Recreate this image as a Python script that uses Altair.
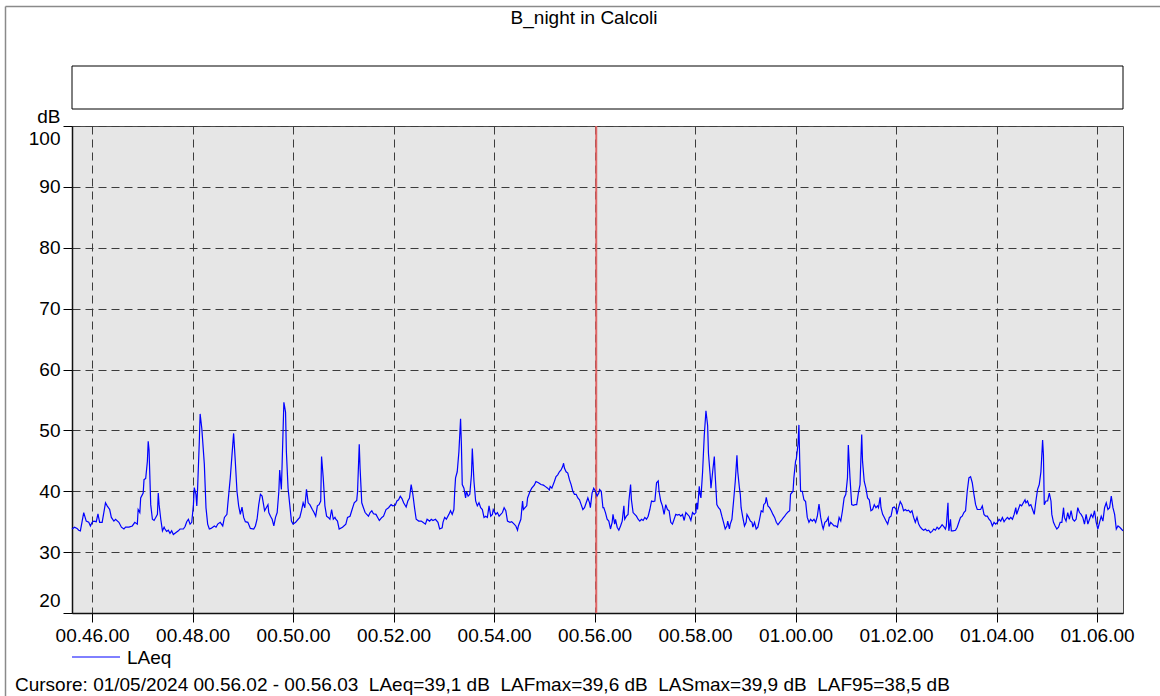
import altair as alt
import pandas as pd

TITLE = "B_night in Calcoli"
NB = "\u00a0 "
FOOTER = ("Cursore: 01/05/2024 00.56.02 - 00.56.03" + NB + "LAeq=39,1 dB" + NB + "LAFmax=39,6 dB" + NB
          + "LASmax=39,9 dB" + NB + "LAF95=38,5 dB")
SERIES = "LAeq"
START = "2024-05-01 00:45:36"
END = "2024-05-01 01:06:31"
CURSOR = "2024-05-01 00:56:02"

x_ticks = ["00:46:00", "00:48:00", "00:50:00", "00:52:00", "00:54:00", "00:56:00",
           "00:58:00", "01:00:00", "01:02:00", "01:04:00", "01:06:00"]
y_ticks = [20, 30, 40, 50, 60, 70, 80, 90, 100]

# seconds after 00:45:36
offset_s = [
    0, 3, 6, 8, 10, 14, 17, 20, 22, 24, 26, 29, 31, 33, 36, 40, 42, 45, 47, 50, 52, 56, 59, 62, 64,
    68, 72, 75, 78, 79, 81, 82, 85, 86, 88, 90, 91, 92, 94, 96, 98, 100, 102, 103, 104, 106, 108,
    110, 111, 113, 115, 117, 119, 121, 123, 127, 129, 133, 135, 137, 139, 141, 143, 145, 146, 148,
    149, 150, 152, 153, 155,
    158, 160, 162, 164, 166, 170, 172, 174, 177, 180, 182, 185, 186, 189, 191, 193, 195, 197, 199,
    201, 203, 205, 207, 210, 213, 217, 219, 221, 223, 225, 227, 229, 230, 232, 234, 235, 237, 239,
    241, 243, 245, 247, 248, 250, 251, 253, 255, 256, 258, 260, 262, 264, 267, 270, 272, 274, 276,
    278, 280, 282, 284, 287, 289, 291, 293, 295, 297, 298, 300, 302, 304, 306, 308, 310, 312, 314,
    315, 317, 319, 323, 327, 329, 332, 334, 337, 340, 341, 343, 344, 346, 348, 350, 352, 354, 356,
    358, 360, 363, 365, 367, 370, 372, 375, 378, 381, 383, 386, 388, 390, 392, 394, 396, 399, 401,
    403, 405, 407, 409, 411, 414, 417, 419, 422, 424, 427, 429, 431, 434, 437, 439, 442, 443, 445,
    447, 450, 452, 454, 456, 457, 458, 460, 462, 464, 465, 466, 468, 470, 471,
    473, 475, 477, 478, 480, 482, 484, 486, 488, 490, 492, 494, 496, 498, 500, 502, 503, 506, 508,
    510, 512, 514, 516, 518, 520, 523, 525, 528, 530, 532, 533, 536, 538, 539, 541, 543, 544, 547,
    549, 552, 554, 557, 560, 563, 565, 568, 570, 571, 573, 576, 578, 580, 582, 584, 586, 587, 588,
    590, 592, 594, 596, 598, 600, 602, 604, 606, 608, 610, 612, 614, 616, 618, 619, 621, 623, 625,
    627, 629,
    630, 632, 634, 635, 637, 639, 641, 643, 645, 646, 648, 649, 651, 653, 655, 657, 659, 660, 662,
    664, 665, 667, 668, 670, 672, 674, 676, 678, 680, 682, 684, 686, 688, 690, 692, 694, 696, 698,
    700, 701, 703, 705, 707, 709, 711, 713, 715, 717, 719, 721, 723, 725, 727, 729, 731, 733, 735,
    737, 739, 741, 743, 745, 746, 747, 749, 750, 751, 753, 755, 757, 759, 760, 762, 763, 765, 767,
    768, 770, 772, 774, 776, 778, 780, 782, 783, 785, 786,
    788, 790, 792, 794, 795, 797, 798, 799, 801, 803, 805, 806, 808, 810, 812, 813, 815, 817, 819,
    821, 823, 825, 826, 828, 829, 831, 833, 835, 837, 839, 841, 843, 845, 847, 849, 851, 853, 855,
    857, 858, 861, 862, 864, 865, 867, 868, 869, 870, 872, 874, 876, 878, 880, 882, 884, 886, 888,
    890, 892, 894, 896, 897, 899, 901, 903, 904, 906, 908, 910, 912, 914, 916, 918, 920, 922, 924,
    926, 927, 929, 931, 933, 935, 937, 939, 941, 943, 944,
    946, 948, 950, 952, 954, 956, 958, 960, 962, 963, 965, 966, 968, 970, 972, 974, 976, 978, 980,
    982, 984, 985, 987, 989, 991, 993, 995, 997, 999, 1001, 1003, 1005, 1007, 1009, 1011, 1013,
    1015, 1017, 1019, 1021, 1023, 1025, 1027, 1029, 1031, 1033, 1035, 1037, 1039, 1041, 1043, 1044,
    1046, 1047, 1048, 1049, 1050, 1052, 1055, 1057, 1059, 1061, 1063, 1065, 1067, 1069, 1071, 1073,
    1075, 1077, 1079, 1081, 1083, 1085, 1087, 1089, 1091, 1093, 1095, 1097, 1099, 1101,
    1103, 1105, 1107, 1109, 1111, 1113, 1115, 1117, 1119, 1121, 1123, 1125, 1127, 1128, 1130, 1132,
    1134, 1136, 1138, 1139, 1141, 1143, 1145, 1147, 1149, 1151, 1153, 1155, 1157, 1159, 1160, 1161,
    1163, 1165, 1167, 1169, 1170, 1172, 1174, 1176, 1178, 1180, 1182, 1184, 1185, 1187, 1189, 1191,
    1193, 1195, 1197, 1199, 1201, 1203, 1205, 1207, 1209, 1211, 1213, 1215, 1217, 1219, 1221, 1223,
    1225, 1227, 1229, 1231, 1233, 1235, 1237, 1239, 1241, 1243, 1245, 1247, 1249, 1251, 1253, 1255,
]

laeq_db = [
    33.8, 34.1, 33.9, 33.6, 33.5, 36.5, 35.1, 34.9, 34.3, 34.9, 35.1, 35.0, 36.3, 34.9, 34.9, 38.1,
    37.6, 37.0, 35.7, 35.1, 35.4, 34.9, 34.1, 33.8, 34.1, 34.1, 34.3, 34.9, 34.6, 37.0, 36.5, 38.9,
    39.7, 41.9, 42.1, 44.9, 48.2, 46.8, 37.8, 35.4, 35.2, 35.7, 36.2, 39.7, 37.8, 35.4, 33.5, 34.1,
    33.8, 33.4, 33.6, 33.1, 33.5, 32.9, 33.1, 33.5, 33.8, 33.8, 34.2, 35.0, 35.4, 34.6, 34.9, 37.8,
    40.6, 39.5, 37.6, 40.5, 48.1, 52.7, 50.3,
    44.5, 37.3, 34.6, 33.8, 33.9, 34.3, 34.1, 34.6, 34.9, 34.3, 35.7, 36.2, 37.8, 42.2, 45.9, 49.5,
    44.9, 40.0, 37.6, 36.2, 37.4, 35.7, 35.0, 34.9, 33.9, 33.8, 34.3, 35.4, 37.8, 39.5, 39.2, 37.6,
    36.8, 37.3, 37.8, 36.5, 35.9, 35.4, 34.3, 35.7, 36.5, 40.0, 43.5, 40.3, 44.9, 54.6, 53.0, 46.5,
    40.5, 37.8, 35.1, 34.6, 34.9, 35.4, 35.7, 36.8, 38.1, 37.3, 40.3, 38.1, 37.8, 37.0, 36.5, 35.9,
    37.6, 37.8, 38.4, 45.7, 42.2, 37.6, 35.9, 35.7, 35.4, 37.0, 35.4, 35.7,
    35.4, 35.1, 33.8, 34.1, 34.6, 35.7, 35.9, 36.8, 38.1, 38.5, 40.0, 47.7, 43.8, 38.1, 37.3, 36.5,
    36.2, 35.9, 36.5, 36.8, 36.3, 36.2, 35.7, 35.2, 35.7, 35.9, 37.0, 37.3, 37.8, 37.6, 37.7, 38.4,
    38.6, 39.2, 38.8, 38.1, 37.4, 38.4, 38.9, 41.1, 39.5, 37.3, 35.4, 35.1, 35.1, 34.9, 34.6, 35.4,
    35.1, 35.4, 35.2, 35.4, 34.9, 33.8, 34.0, 34.9, 35.7, 35.4, 36.2, 36.8, 36.2, 37.0, 40.0, 42.2,
    43.2, 46.5, 51.9, 47.6, 41.1, 40.5, 38.9, 40.0,
    39.2, 39.5, 42.7, 47.0, 41.6, 38.4, 37.6, 38.1, 37.3, 37.0, 35.7, 35.9, 35.7, 37.6, 35.9, 36.2,
    37.0, 36.2, 36.5, 35.9, 36.2, 36.5, 37.3, 36.8, 35.1, 34.9, 35.0, 34.6, 34.3, 33.6, 34.3, 35.4,
    38.4, 37.0, 37.3, 37.6, 38.9, 40.0, 40.5, 41.0, 41.6, 41.4, 41.1, 41.0, 40.8, 40.5, 40.2, 40.8,
    40.5, 41.6, 42.4, 42.7, 43.2, 43.5, 44.1, 44.6, 43.8, 43.2, 43.0, 41.9, 41.1, 40.0, 39.5, 39.5,
    38.9, 38.6, 37.8, 37.0, 37.3, 38.1, 38.9, 38.1, 37.3, 39.7, 40.5, 40.0, 39.2, 39.7,
    40.3, 40.0, 37.3, 37.3, 36.5, 35.4, 35.1, 33.8, 34.9, 36.2, 34.6, 35.4, 34.1, 33.6, 34.3, 35.1,
    37.6, 35.4, 35.9, 36.2, 38.4, 41.1, 38.6, 36.5, 36.2, 35.9, 35.4, 35.1, 35.4, 35.2, 35.7, 35.4,
    35.9, 37.0, 38.4, 38.3, 38.4, 41.4, 41.7, 40.0, 38.4, 37.6, 36.2, 37.8, 37.0, 36.8, 34.9, 34.6,
    35.4, 36.2, 36.1, 36.2, 35.9, 36.2, 35.2, 36.5, 36.2, 35.9, 35.2, 36.5, 36.2, 36.5, 38.1, 37.0,
    40.8, 39.5, 38.9, 43.2, 49.2, 53.2, 50.8, 46.2, 42.7, 40.5, 43.2, 45.7, 42.7, 37.8, 37.3, 37.0,
    35.9, 34.9, 33.8, 34.3, 35.1, 33.8, 34.6,
    35.4, 38.4, 41.6, 45.9, 43.2, 40.5, 39.5, 37.3, 35.7, 34.3, 34.9, 36.2, 35.7, 35.1, 34.9, 34.1,
    34.9, 33.8, 34.1, 35.4, 36.8, 36.6, 37.8, 38.1, 39.0, 37.6, 37.3, 36.8, 36.2, 35.7, 34.9, 34.5,
    34.9, 35.2, 35.6, 35.9, 36.3, 36.6, 36.8, 39.5, 40.0, 42.2, 44.9, 45.4, 47.8, 50.9, 44.9, 40.0,
    40.0, 38.6, 38.3, 35.7, 34.9, 35.4, 35.1, 35.4, 34.9, 35.9, 37.9, 35.7, 34.3, 33.8, 34.9, 35.1,
    35.7, 34.2, 34.9, 34.6, 34.3, 34.3, 34.1, 35.7, 35.1, 36.8, 38.9, 39.5, 42.2, 47.6, 42.2, 37.8,
    37.7, 37.8, 37.8, 39.7, 41.1, 49.3, 44.9,
    41.6, 40.5, 38.9, 38.6, 36.8, 37.0, 37.8, 37.3, 37.6, 37.3, 39.0, 37.3, 36.2, 35.7, 35.1, 34.6,
    35.7, 35.9, 37.3, 37.4, 37.0, 36.2, 37.3, 38.3, 37.8, 36.8, 37.0, 36.8, 36.9, 36.5, 36.8, 35.7,
    34.9, 35.7, 34.6, 34.1, 33.8, 33.6, 33.8, 33.5, 33.6, 33.2, 33.4, 33.8, 33.6, 34.1, 33.8, 34.1,
    34.5, 34.2, 33.8, 34.3, 38.1, 33.5, 34.3, 35.4, 33.5, 33.5, 33.6, 34.1, 34.9, 35.7, 35.9, 36.5,
    36.8, 40.0, 42.2, 42.4, 41.4, 39.5, 37.8, 37.0, 37.0, 37.0, 37.6, 36.2, 35.9, 35.9, 35.4, 35.1,
    34.3, 34.9,
    34.6, 34.9, 35.4, 35.1, 35.7, 35.0, 35.4, 35.7, 35.4, 35.7, 35.4, 36.2, 37.3, 36.2, 37.0, 37.8,
    37.6, 38.1, 38.6, 38.1, 38.4, 37.6, 37.8, 37.0, 36.2, 38.4, 40.3, 41.1, 43.2, 48.4, 45.9, 37.8,
    38.4, 38.4, 39.7, 38.4, 36.2, 34.9, 34.3, 33.8, 34.1, 34.9, 34.9, 37.3, 35.7, 35.1, 36.5, 35.4,
    36.8, 35.4, 35.1, 35.4, 37.3, 36.5, 36.2, 35.7, 34.6, 36.2, 34.6, 35.4, 36.2, 35.7, 36.8, 34.9,
    33.8, 34.9, 35.9, 35.1, 37.3, 38.1, 37.0, 37.3, 39.2, 37.3, 36.2, 33.8, 34.3, 34.1, 33.8, 33.5,
]

FONT = "Liberation Sans"
FS = 19
W, H = 1051, 487


def dt(ts):
    t = pd.Timestamp(ts)
    return alt.DateTime(year=t.year, month=t.month, date=t.day,
                        hours=t.hour, minutes=t.minute, seconds=t.second)


start = pd.Timestamp(START)
times = start + pd.to_timedelta(offset_s, unit="s")
df = pd.DataFrame({"time": times.strftime("%Y-%m-%dT%H:%M:%S"), "dB": laeq_db, "series": SERIES})
cursor_df = pd.DataFrame({"time": [pd.Timestamp(CURSOR).strftime("%Y-%m-%dT%H:%M:%S")]})
one = pd.DataFrame({"series": [SERIES]})

x_enc = alt.X(
    "time:T",
    scale=alt.Scale(domain=[dt(START), dt(END)]),
    axis=alt.Axis(
        values=[dt("2024-05-01 " + s) for s in x_ticks],
        format="%H.%M.%S", title=None, labelFlush=False,
        grid=True, gridDash=[8, 5], gridColor="#3c3c3c", gridWidth=1,
        tickSize=9, tickColor="#000", labelPadding=4,
        domainColor="#111", domainWidth=1.5,
        labelFont=FONT, labelFontSize=FS, labelColor="#000",
    ),
)
y_enc = alt.Y(
    "dB:Q",
    scale=alt.Scale(domain=[20, 100], nice=False, zero=False),
    axis=alt.Axis(
        values=y_ticks, title="dB", titleAngle=0, titleX=-12, titleY=-4,
        titleAlign="right", titleBaseline="alphabetic",
        titleFont=FONT, titleFontSize=FS, titleFontWeight="normal", titleColor="#000",
        labelFlush=True, labelFlushOffset=-3,
        grid=True, gridDash=[8, 5], gridColor="#3c3c3c", gridWidth=1,
        tickSize=9, tickColor="#000", labelPadding=3,
        domainColor="#111", domainWidth=1.5,
        labelFont=FONT, labelFontSize=FS, labelColor="#000",
    ),
)

cursor = alt.Chart(cursor_df).mark_rule(color="#e06464", strokeWidth=2).encode(x=x_enc)

line = alt.Chart(df).mark_line(color="#0000ff", strokeWidth=1.2).encode(
    x=x_enc, y=y_enc, detail="series:N"
)

box = alt.Chart(one).mark_rect(fill="white", stroke="#000", strokeWidth=1).encode(
    x=alt.value(0), x2=alt.value(W), y=alt.value(-60), y2=alt.value(-17)
)

frame_left = alt.Chart(one).mark_rule(color="#8a8a8a", strokeWidth=1.5).encode(
    x=alt.value(-66.5), y=alt.value(-119.5), y2=alt.value(572)
)
frame_top = alt.Chart(one).mark_rule(color="#8a8a8a", strokeWidth=1.5).encode(
    x=alt.value(-66.5), x2=alt.value(1090), y=alt.value(-119.5)
)

title = alt.Chart(one).mark_text(
    font=FONT, fontSize=FS, align="center", baseline="alphabetic", color="#000"
).encode(x=alt.value(512), y=alt.value(-102), text=alt.value(TITLE))

legend_line = alt.Chart(one).mark_rule(color="#0000ff", strokeWidth=1).encode(
    x=alt.value(0), x2=alt.value(48), y=alt.value(531)
)
legend_text = alt.Chart(one).mark_text(
    font=FONT, fontSize=FS, align="left", baseline="alphabetic", color="#000"
).encode(x=alt.value(55), y=alt.value(538), text="series:N")

footer = alt.Chart(one).mark_text(
    font=FONT, fontSize=FS, align="left", baseline="alphabetic", color="#000"
).encode(x=alt.value(-57), y=alt.value(565), text=alt.value(FOOTER))

chart = alt.layer(
    cursor, line, box, frame_left, frame_top, title, legend_line, legend_text, footer
).properties(
    width=W, height=H,
    autosize=alt.AutoSizeParams(type="none"),
    padding={"left": 72, "top": 126, "right": 37, "bottom": 83},
    background="white",
).configure_view(
    fill="#e6e6e6", stroke="#4a4a4a", strokeWidth=1
)

chart.save("out.html", embed_options={"renderer": "svg", "actions": False})
